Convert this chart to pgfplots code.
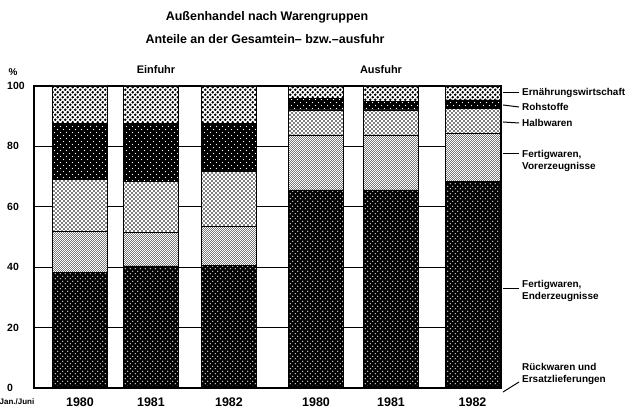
\documentclass[border=0pt]{standalone}
\usepackage{fontspec}
\setmainfont{Liberation Sans}
\usepackage{pgfplots}
\usepackage{pgfplotstable}
\pgfplotsset{compat=1.18}
\usetikzlibrary{patterns}

\pgfdeclarepatternformonly{ernpat}{\pgfqpoint{0pt}{0pt}}{\pgfqpoint{5pt}{5pt}}{\pgfqpoint{5pt}{5pt}}{%
  \pgfpathcircle{\pgfqpoint{1.25pt}{1.25pt}}{1.45pt}%
  \pgfpathcircle{\pgfqpoint{3.75pt}{3.75pt}}{1.45pt}%
  \pgfusepath{fill}}
\pgfdeclarepatternformonly{halbpat}{\pgfqpoint{0pt}{0pt}}{\pgfqpoint{4pt}{4pt}}{\pgfqpoint{4pt}{4pt}}{%
  \pgfpathcircle{\pgfqpoint{1pt}{1pt}}{0.8pt}%
  \pgfpathcircle{\pgfqpoint{3pt}{3pt}}{0.8pt}%
  \pgfusepath{fill}}
\pgfdeclarepatternformonly{sparsepat}{\pgfqpoint{0pt}{0pt}}{\pgfqpoint{6pt}{6pt}}{\pgfqpoint{6pt}{6pt}}{%
  \pgfpathcircle{\pgfqpoint{1.5pt}{1.5pt}}{0.6pt}%
  \pgfpathcircle{\pgfqpoint{4.5pt}{4.5pt}}{0.6pt}%
  \pgfusepath{fill}}
\pgfdeclarepatternformonly{enderpat}{\pgfqpoint{0pt}{0pt}}{\pgfqpoint{5pt}{5pt}}{\pgfqpoint{5pt}{5pt}}{%
  \pgfpathcircle{\pgfqpoint{1.25pt}{1.25pt}}{0.55pt}%
  \pgfpathcircle{\pgfqpoint{3.75pt}{3.75pt}}{0.55pt}%
  \pgfusepath{fill}}
\pgfdeclarepatternformonly{vorpat}{\pgfqpoint{0pt}{0pt}}{\pgfqpoint{2pt}{2pt}}{\pgfqpoint{2pt}{2pt}}{%
  \pgfpathrectangle{\pgfqpoint{0pt}{0pt}}{\pgfqpoint{1pt}{1pt}}%
  \pgfpathrectangle{\pgfqpoint{1pt}{1pt}}{\pgfqpoint{1pt}{1pt}}%
  \pgfusepath{fill}}

\pgfplotstableread{
x rueck ender vor halb roh ern
80 0.5 37.7 13.6 17.3 18.5 12.4
151 0.5 39.9 11.1 16.8 19.3 12.4
229 0.6 40.1 12.7 18.2 16.0 12.4
316 0.5 65.1 18.2 8.3 3.9 4.0
391 0.5 65.1 18.2 8.3 2.8 5.1
472.5 0.5 67.8 16.0 8.3 2.8 4.6
}\data

\begin{document}
\begin{tikzpicture}[font=\bfseries]
\path[use as bounding box] (0,0) rectangle (635bp,409bp);
\begin{axis}[
  at={(34bp,21bp)}, anchor=south west, scale only axis,
  width=467bp, height=302bp,
  xmin=34, xmax=501, ymin=0, ymax=100, enlargelimits=false,
  ybar stacked, bar width=55,
  xtick={80,151,229,316,391,472.5},
  xticklabels={1980,1981,1982,1980,1981,1982},
  ytick={0,20,40,60,80,100},
  ymajorgrids, grid style={black, line width=1.2bp},
  major tick length=0,
  axis line style={line width=1.5bp},
  /pgf/number format/assume math mode=true,
  yticklabel style={font=\bfseries\fontsize{10.5}{12}\selectfont, anchor=west, inner sep=0pt, xshift=-27bp},
  xticklabel style={font=\bfseries\fontsize{12.5}{14}\selectfont, anchor=center, inner sep=0pt, yshift=-14bp},
  clip=false,
]
\addplot[fill=black, draw=black, line width=0.6bp] table[x=x, y=rueck] {\data};
\addplot[fill=black, draw=black, line width=0.6bp, postaction={pattern=enderpat, pattern color=white}] table[x=x, y=ender] {\data};
\addplot[fill=black!60, draw=black, line width=0.6bp, postaction={pattern=vorpat, pattern color=white}] table[x=x, y=vor] {\data};
\addplot[fill=white, draw=black, line width=0.6bp, postaction={pattern=halbpat, pattern color=black}] table[x=x, y=halb] {\data};
\addplot[fill=black, draw=black, line width=0.6bp, postaction={pattern=sparsepat, pattern color=white}] table[x=x, y=roh] {\data};
\addplot[fill=white, draw=black, line width=0.6bp, postaction={pattern=ernpat, pattern color=black}] table[x=x, y=ern] {\data};
\end{axis}
% titles and labels
\node[font=\bfseries\fontsize{12.5}{14}\selectfont] at (267bp,392bp) {Außenhandel nach Warengruppen};
\node[font=\bfseries\fontsize{12.5}{14}\selectfont] at (265bp,370bp) {Anteile an der Gesamtein-- bzw.--ausfuhr};
\node[font=\bfseries\fontsize{10}{12}\selectfont] at (13bp,337bp) {\%};
\node[font=\bfseries\fontsize{11}{12}\selectfont] at (156bp,339bp) {Einfuhr};
\node[font=\bfseries\fontsize{11}{12}\selectfont] at (381bp,339bp) {Ausfuhr};
\node[font=\bfseries\fontsize{8}{10}\selectfont, inner sep=0pt] at (17bp,7bp) {Jan./Juni};
% right labels
\begin{scope}[every node/.style={font=\bfseries\fontsize{10}{12}\selectfont, anchor=west, inner sep=0pt, align=left}]
\node at (522bp,316bp) {Ernährungswirtschaft};
\node at (522bp,302bp) {Rohstoffe};
\node at (522bp,286bp) {Halbwaren};
\node at (522bp,248bp) {Fertigwaren,\\Vorerzeugnisse};
\node at (522bp,118bp) {Fertigwaren,\\Enderzeugnisse};
\node at (522bp,35bp) {Rückwaren und\\Ersatzlieferungen};
\end{scope}
\begin{scope}[line width=1bp]
\draw (503bp,316bp) -- (519bp,316bp);
\draw (503bp,304bp) -- (519bp,302bp);
\draw (503bp,287bp) -- (519bp,286bp);
\draw (503bp,255bp) -- (519bp,255bp);
\draw (503bp,120bp) -- (519bp,120bp);
\draw (503bp,17bp) -- (519bp,27bp);
\end{scope}
\end{tikzpicture}
\end{document}
